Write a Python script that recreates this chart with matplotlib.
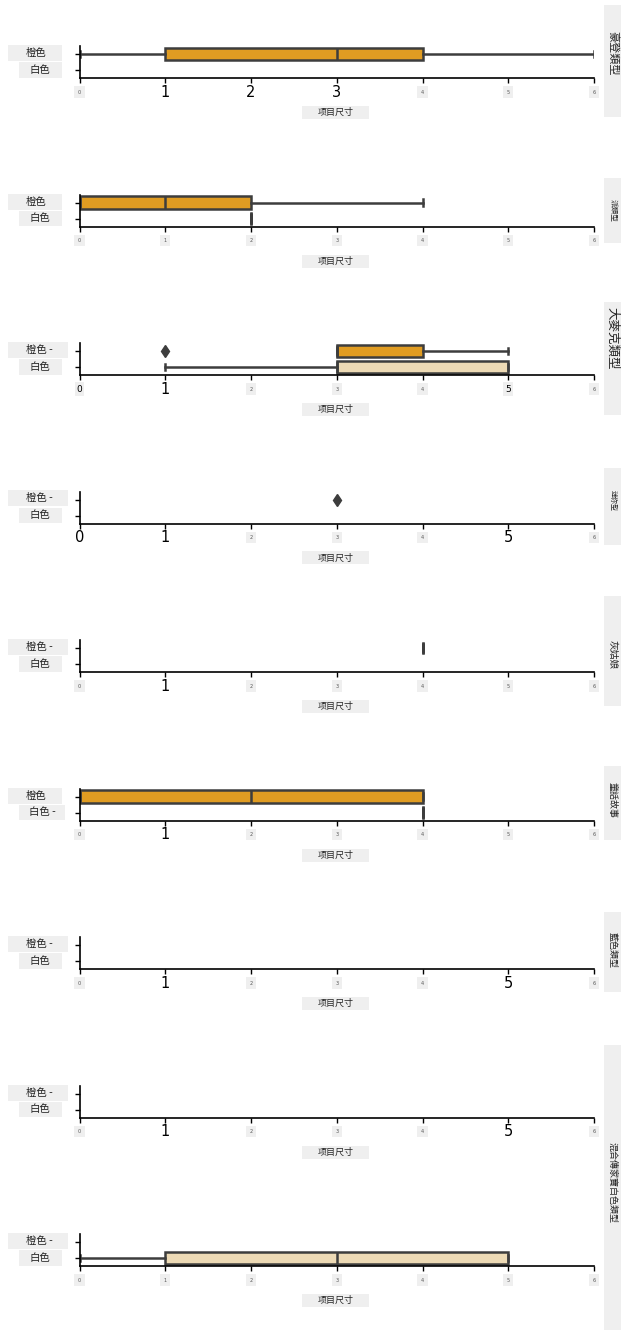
import matplotlib
matplotlib.use("Agg")
import matplotlib.pyplot as plt
from matplotlib.patches import Rectangle

plt.rcParams['font.family'] = ['Noto Sans CJK SC', 'DejaVu Sans']

W, H = 628, 1337

# 品种（每行一个面板）
varieties = ["豪登類型", "派類型", "大麥克類型", "迷你型", "灰姑娘",
             "童話故事", "藍色類型", "", "混合傳家寶白色類型"]
color_names = ["橙色", "白色"]

# 箱线统计 (whislo, q1, med, q3, whishi)，None 表示没有数据
orange_stats = [(0, 1, 3, 4, 6), (0, 0, 1, 2, 4), (3, 3, 3, 4, 5), None,
                (4, 4, 4, 4, 4), (0, 0, 2, 4, 4), None, None, None]
white_stats = [None, (2, 2, 2, 2, 2), (1, 3, 3, 5, 5), None,
               None, (4, 4, 4, 4, 4), None, None, (0, 1, 3, 5, 5)]
orange_fliers = [[], [], [1], [3], [], [], [], [], []]
white_fliers = [[], [], [], [], [], [], [], [], []]

xticks = [0, 1, 2, 3, 4, 5, 6]
big_ticks = [[1, 2, 3], [], [1], [0, 1, 5], [1], [1], [1, 5], [1, 5], []]
mid_ticks = [[], [], [0, 5], [], [], [], [], [], []]

# 标签后面多出来的 " -"
orange_dash = [False, False, True, True, True, False, True, True, True]
white_dash = [False, False, False, False, False, True, False, False, False]

# 右侧标题框 (y0, y1, 文字中心 y, 字号)，单位像素
title_boxes = [(5, 117, 53, 8), (178, 243, 210, 5.5), (302, 415, 338, 9),
               (468, 545, 500, 5), (596, 706, 655, 7), (766, 840, 800, 6.5),
               (912, 992, 950, 6.5), None, (1045, 1330, 1183, 6.5)]

BOX_C = {"橙色": "#e09c22", "白色": "#eddab5"}
EDGE = "#3d3d3d"
GRAY = "#efefef"

fig = plt.figure(figsize=(W / 100, H / 100), dpi=100)
axes = fig.subplots(9, 1, gridspec_kw=dict(left=79.5 / W, right=594 / W,
                                           top=1 - 46 / H, bottom=1 - 1266 / H,
                                           hspace=116.5 / 32))


def box_text(x0, y0, x1, y1, txt, size, xc=None, yc=None, rot=0, color="#222222"):
    # 灰底文字框，坐标为像素（从上往下）
    fig.add_artist(Rectangle((x0 / W, 1 - y1 / H), (x1 - x0) / W, (y1 - y0) / H,
                             transform=fig.transFigure, facecolor=GRAY,
                             edgecolor="none", zorder=0))
    if xc is None:
        xc = (x0 + x1) / 2
    if yc is None:
        yc = (y0 + y1) / 2
    fig.text(xc / W, 1 - yc / H, txt, fontsize=size, ha="center", va="center",
             rotation=rot, color=color, zorder=1)


for k, ax in enumerate(axes):
    stats, pos, cols = [], [], []
    for j, st in enumerate([orange_stats[k], white_stats[k]]):
        if st is None:
            continue
        stats.append(dict(whislo=st[0], q1=st[1], med=st[2], q3=st[3],
                          whishi=st[4], fliers=[]))
        pos.append(j)
        cols.append(BOX_C[color_names[j]])
    if stats:
        lp = dict(color=EDGE, linewidth=1.8)
        res = ax.bxp(stats, positions=pos, widths=0.8, orientation="horizontal",
                     patch_artist=True, showfliers=False, capwidths=0.4,
                     boxprops=dict(edgecolor=EDGE, linewidth=1.8),
                     medianprops=lp, whiskerprops=lp, capprops=lp)
        for b, c in zip(res["boxes"], cols):
            b.set_facecolor(c)
    for j, fl in enumerate([orange_fliers[k], white_fliers[k]]):
        if fl:
            ax.plot(fl, [j] * len(fl), marker="d", ls="none", color=EDGE, ms=6)

    ax.set_xlim(0, 6)
    ax.set_ylim(1.5, -0.5)
    for s in ["top", "right"]:
        ax.spines[s].set_visible(False)
    ax.spines["left"].set_linewidth(1.2)
    ax.spines["bottom"].set_linewidth(1.2)
    ax.set_yticks([0, 1])
    ax.set_yticklabels(["", ""])
    ax.tick_params(length=3.5, width=1)
    ax.tick_params(axis="x", pad=6.6)
    ax.set_xticks(xticks)
    ax.set_xticklabels([str(t) for t in xticks], family="DejaVu Sans")
    for t, lab in zip(xticks, ax.get_xticklabels()):
        lab.set_verticalalignment("center")
        if t in big_ticks[k]:
            lab.set_fontsize(10.5)
        elif t in mid_ticks[k]:
            lab.set_fontsize(6.5)
            lab.set_bbox(dict(facecolor=GRAY, edgecolor="none", pad=1.5))
        else:
            lab.set_fontsize(3.5)
            lab.set_color("#555555")
            lab.set_bbox(dict(facecolor=GRAY, edgecolor="none", pad=2.5))

    S = (1 - ax.get_position().y0) * H
    o_txt = color_names[0] + (" -" if orange_dash[k] else "")
    w_txt = color_names[1] + (" -" if white_dash[k] else "")
    box_text(8, S - 33, 62 + (6 if orange_dash[k] else 0), S - 17, o_txt, 7.5,
             xc=36 if not orange_dash[k] else 39)
    box_text(19, S - 16, 62 + (3 if white_dash[k] else 0), S - 0.5, w_txt, 7.5,
             xc=40 if not white_dash[k] else 42)
    box_text(302, S + 28, 369, S + 41, "项目尺寸", 6.5)

    tb = title_boxes[k]
    if tb is not None:
        box_text(604, tb[0], 621, tb[1], varieties[k], tb[3], yc=tb[2], rot=-90)

fig.savefig("out.png", dpi=100, facecolor="white")
